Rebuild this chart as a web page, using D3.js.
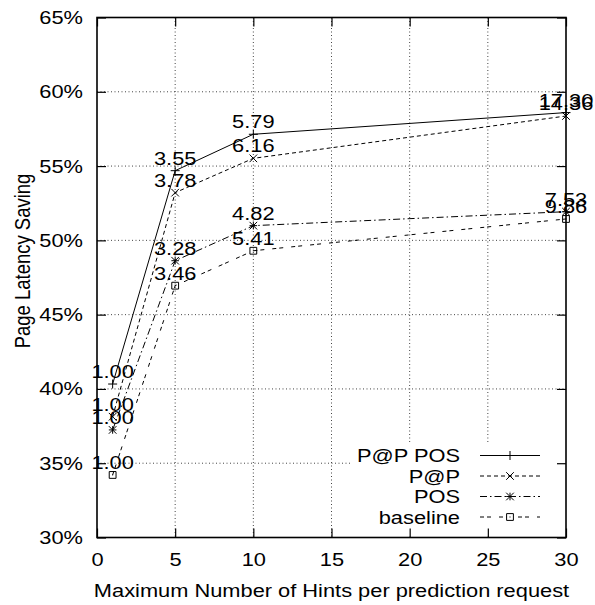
<!DOCTYPE html>
<html>
<head>
<meta charset="utf-8">
<script src="https://cdn.jsdelivr.net/npm/d3@7"></script>
<style>
  body { margin: 0; background: #fff; }
  text { font-family: "Liberation Sans", Arial, Helvetica, sans-serif; font-size: 18.5px; fill: #000; }
</style>
</head>
<body>
<div class="canvas"></div>
<script>
// data
const hints = [1, 5, 10, 30];
const papPos = [40.33, 54.69, 57.14, 58.6];
const pap = [38.13, 53.21, 55.52, 58.37];
const pos = [37.24, 48.63, 50.99, 51.93];
const baseline = [34.21, 46.95, 49.3, 51.44];
const papPosLabels = ["1.00", "3.55", "5.79", "17.30"];
const papLabels = ["1.00", "3.78", "6.16", "14.36"];
const posLabels = ["1.00", "3.28", "4.82", "7.53"];
const baselineLabels = ["1.00", "3.46", "5.41", "9.86"];
const seriesNames = ["P@P POS", "P@P", "POS", "baseline"];
const xTicks = [0, 5, 10, 15, 20, 25, 30];
const yTicks = [30, 35, 40, 45, 50, 55, 60, 65];

const width = 595;
const height = 605;
const sx = 1.18; // text looks stretched sideways in the original

const svg = d3
  .select(".canvas")
  .append("svg")
  .attr("width", width)
  .attr("height", height);

const plotLeft = 97, plotRight = 566, plotTop = 17.5, plotBottom = 537.5;

const x = d3.scaleLinear().domain([0, 30]).range([plotLeft, plotRight]);
const y = d3.scaleLinear().domain([30, 65]).range([plotBottom, plotTop]);

// grid
const grid = svg.append("g");
grid
  .selectAll("line.gy")
  .data(yTicks.filter((d) => d > 30 && d < 65))
  .enter()
  .append("line")
  .attr("x1", plotLeft)
  .attr("x2", plotRight)
  .attr("y1", (d) => y(d))
  .attr("y2", (d) => y(d))
  .attr("stroke", "#444")
  .attr("stroke-width", 1)
  .attr("stroke-dasharray", "1,2.5");
grid
  .selectAll("line.gx")
  .data(xTicks.filter((d) => d > 0 && d < 30))
  .enter()
  .append("line")
  .attr("x1", (d) => x(d))
  .attr("x2", (d) => x(d))
  .attr("y1", plotTop)
  .attr("y2", plotBottom)
  .attr("stroke", "#444")
  .attr("stroke-width", 1)
  .attr("stroke-dasharray", "1,2.5");

// legend area blanks the grid
svg
  .append("rect")
  .attr("x", 352)
  .attr("y", 443)
  .attr("width", plotRight - 352 - 1)
  .attr("height", plotBottom - 443 - 1)
  .attr("fill", "white");

// axes
function styleText(g, dx, dy) {
  g.selectAll("text")
    .attr("x", null)
    .attr("y", null)
    .attr("transform", `translate(${dx},${dy}) scale(${sx},1)`)
    .attr("fill", "#000")
    .style("font-size", "18.5px");
}

const yAxis = svg
  .append("g")
  .attr("transform", `translate(${plotLeft},0)`)
  .call(d3.axisLeft(y).tickValues(yTicks).tickFormat((d) => d + "%").tickSize(-9).tickSizeOuter(0));
styleText(yAxis, -14, 0);

svg
  .append("g")
  .attr("transform", `translate(${plotRight},0)`)
  .call(d3.axisRight(y).tickValues(yTicks).tickFormat("").tickSize(-9).tickSizeOuter(0));

const xAxis = svg
  .append("g")
  .attr("transform", `translate(0,${plotBottom})`)
  .call(d3.axisBottom(x).tickValues(xTicks).tickSize(-9).tickSizeOuter(0));
styleText(xAxis, 0, 15);

svg
  .append("g")
  .attr("transform", `translate(0,${plotTop})`)
  .call(d3.axisTop(x).tickValues(xTicks).tickFormat("").tickSize(-9).tickSizeOuter(0));

svg.selectAll(".domain").remove();
svg.selectAll(".tick line").attr("stroke", "#000").attr("stroke-width", 1.2);

svg
  .append("rect")
  .attr("x", plotLeft)
  .attr("y", plotTop)
  .attr("width", plotRight - plotLeft)
  .attr("height", plotBottom - plotTop)
  .attr("fill", "none")
  .attr("stroke", "#000")
  .attr("stroke-width", 1.6);

// axis titles
svg
  .append("text")
  .attr("transform", `translate(${(plotLeft + plotRight) / 2},597) scale(${sx},1)`)
  .attr("text-anchor", "middle")
  .text("Maximum Number of Hints per prediction request");

svg
  .append("text")
  .attr("transform", `translate(30,261) scale(${sx},1) rotate(-90)`)
  .attr("text-anchor", "middle")
  .text("Page Latency Saving");

// markers
function markerPath(kind, s) {
  const plus = `M${-s},0H${s}M0,${-s}V${s}`;
  const cross = `M${-s},${-s}L${s},${s}M${-s},${s}L${s},${-s}`;
  if (kind === "plus") return plus;
  if (kind === "cross") return cross;
  if (kind === "star") return plus + cross;
  return `M${-s},${-s}H${s}V${s}H${-s}Z M-0.5,0H0.5`;
}

const series = [
  { name: seriesNames[0], values: papPos, labels: papPosLabels, dash: null, marker: "plus", ms: 4.5 },
  { name: seriesNames[1], values: pap, labels: papLabels, dash: "4,3", marker: "cross", ms: 3.8 },
  { name: seriesNames[2], values: pos, labels: posLabels, dash: "7,3,1.5,3", marker: "star", ms: 3.8 },
  { name: seriesNames[3], values: baseline, labels: baselineLabels, dash: "4,3,4,8", marker: "square", ms: 3.4 },
];

const line = d3
  .line()
  .x((d, i) => x(hints[i]))
  .y((d) => y(d));

series.forEach((s) => {
  svg
    .append("path")
    .attr("d", line(s.values))
    .attr("fill", "none")
    .attr("stroke", "#000")
    .attr("stroke-width", 1)
    .attr("stroke-dasharray", s.dash);

  svg
    .selectAll(null)
    .data(s.values)
    .enter()
    .append("path")
    .attr("transform", (d, i) => `translate(${x(hints[i])},${y(d)})`)
    .attr("d", markerPath(s.marker, s.ms))
    .attr("fill", "none")
    .attr("stroke", "#000")
    .attr("stroke-width", 1);

  svg
    .selectAll(null)
    .data(s.values)
    .enter()
    .append("text")
    .attr("transform", (d, i) => `translate(${x(hints[i])},${y(d) - 6}) scale(${sx},1)`)
    .attr("text-anchor", "middle")
    .text((d, i) => s.labels[i]);
});

// legend
const legend = svg.append("g");
series.forEach((s, i) => {
  const ly = 455.5 + i * 20.5;
  legend
    .append("text")
    .attr("transform", `translate(460,${ly + 6.5}) scale(${sx},1)`)
    .attr("text-anchor", "end")
    .text(s.name);
  legend
    .append("line")
    .attr("x1", 480)
    .attr("x2", 540)
    .attr("y1", ly)
    .attr("y2", ly)
    .attr("stroke", "#000")
    .attr("stroke-width", 1)
    .attr("stroke-dasharray", s.dash);
  legend
    .append("path")
    .attr("transform", `translate(510,${ly})`)
    .attr("d", markerPath(s.marker, s.ms))
    .attr("fill", s.marker === "square" ? "white" : "none")
    .attr("stroke", "#000")
    .attr("stroke-width", 1);
});
</script>
</body>
</html>
